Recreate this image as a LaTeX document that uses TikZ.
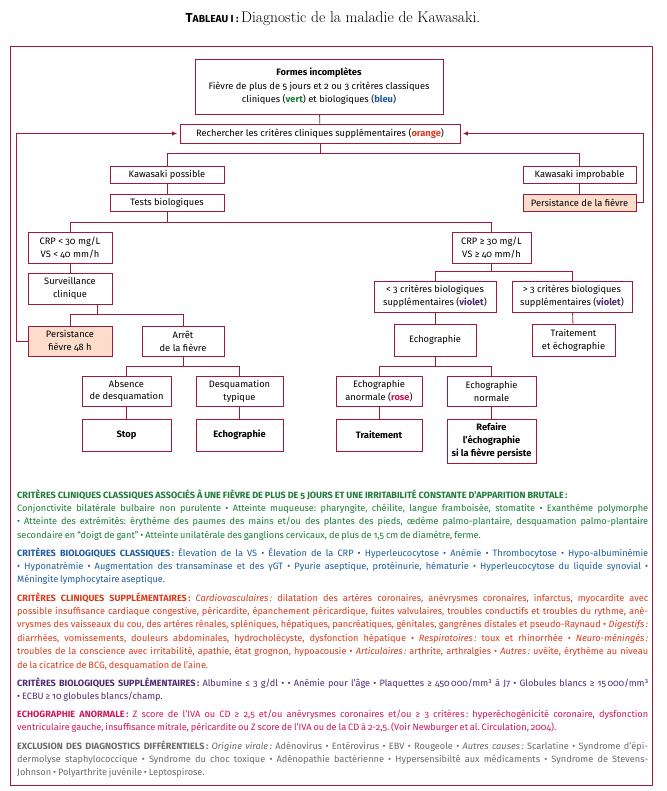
\documentclass[tikz,border=0pt]{standalone}
\usepackage{fontspec}
\setsansfont{Fira Sans}[Numbers=OldStyle]
\renewcommand{\familydefault}{\sfdefault}
\usetikzlibrary{arrows.meta, positioning}
\definecolor{cadre}{HTML}{9B1B38}
\definecolor{peche}{HTML}{FCDCCB}
\definecolor{vert}{HTML}{1E7B3A}
\definecolor{bleu}{HTML}{1F5C9E}
\definecolor{orangec}{HTML}{D93A1C}
\definecolor{cviolet}{HTML}{4E2A72}
\definecolor{rose}{HTML}{D0155C}
\definecolor{gris}{HTML}{6A6A6A}
\newcommand{\reglages}{\frenchspacing\hyphenpenalty=10000\relax\exhyphenpenalty=10000\relax\tolerance=9999\relax\spaceskip=1.9pt plus 3pt minus 0.5pt\relax}
\tikzset{
    boite/.style={
        draw=cadre,
        line width=0.8pt,
        fill=white,
        align=center,
        inner sep=1pt,
        font=\fontsize{9.3}{13}\selectfont
    },
    alerte/.style={boite, fill=peche},
    lien/.style={draw=cadre, line width=0.8pt},
    retour/.style={lien, -{Latex[length=5pt,width=4.5pt]}, shorten >=2.5pt},
    texte/.style={
        text width=631pt,
        align=justify,
        inner sep=0pt,
        anchor=base west,
        font=\fontsize{9.2}{13.4}\selectfont,
        execute at begin node=\reglages
    }
}
\newcommand{\rubrique}[1]{{\bfseries\fontsize{9.1}{13.4}\selectfont #1}}

\begin{document}
\begin{tikzpicture}[x=1pt,y=-1pt]
	\useasboundingbox (0,0) rectangle (666,791);
	\node (titre) at (333,19) {{\bfseries\fontsize{13}{15}\selectfont T\fontsize{10.2}{15}\selectfont ABLEAU I :}~{\rmfamily\fontsize{15.5}{17}\selectfont Diagnostic de la maladie de Kawasaki.}};
	\draw[lien] (10,46) rectangle (652,785);

	% arbre
	\node[boite, minimum width=248pt, minimum height=55pt] at (319,86.5) (formes) {\textbf{Formes incomplètes}\\[1pt]Fièvre de plus de 5 jours et 2 ou 3 critères classiques\\cliniques (\textcolor{vert}{\textbf{vert}}) et biologiques (\textcolor{bleu}{\textbf{bleu}})};
	\node[boite, minimum width=280pt, minimum height=19pt] at (320,133.5) (rech) {Rechercher les critères cliniques supplémentaires (\textcolor{orangec}{\textbf{orange}})};
	\node[boite, minimum width=114pt, minimum height=17pt] at (167,174.5) (kposs) {Kawasaki possible};
	\node[boite, minimum width=114pt, minimum height=17pt] at (167,202.5) (tests) {Tests biologiques};
	\node[boite, minimum width=113pt, minimum height=17pt] at (579.5,174.5) (kimpr) {Kawasaki improbable};
	\node[alerte, minimum width=113pt, minimum height=17pt] at (579.5,202.5) (persf) {Persistance de la fièvre};

	\node[boite, minimum width=84pt, minimum height=31pt] at (70,247.5) (crpa) {CRP < 30 mg/L\\VS < 40 mm/h};
	\node[boite, minimum width=84pt, minimum height=31pt] at (70,288.5) (surv) {Surveillance\\clinique};
	\node[alerte, minimum width=84pt, minimum height=30pt] at (70,341) (pers48) {Persistance\\fièvre 48 h};
	\node[boite, minimum width=82pt, minimum height=30pt] at (183,341) (arret) {Arrêt\\de la fièvre};
	\node[boite, minimum width=89pt, minimum height=30pt] at (126.5,391) (absence) {Absence\\de desquamation};
	\node[boite, minimum width=87pt, minimum height=30pt] at (239.5,391) (desq) {Desquamation\\typique};
	\node[boite, minimum width=89pt, minimum height=32pt] at (126.5,435) (stop) {\textbf{Stop}};
	\node[boite, minimum width=87pt, minimum height=32pt] at (239.5,435) (echoa) {\textbf{Echographie}};

	\node[boite, minimum width=79pt, minimum height=31pt] at (491.5,247.5) (crpb) {CRP ≥ 30 mg/L\\VS ≥ 40 mm/h};
	\node[boite, minimum width=122pt, minimum height=31pt] at (435,296.5) (moins3) {< 3 critères biologiques\\supplémentaires (\textcolor{cviolet}{\textbf{violet}})};
	\node[boite, minimum width=120pt, minimum height=31pt] at (572,296.5) (plus3) {> 3 critères biologiques\\supplémentaires (\textcolor{cviolet}{\textbf{violet}})};
	\node[boite, minimum width=82pt, minimum height=32pt] at (435,340) (echob) {Echographie};
	\node[boite, minimum width=83pt, minimum height=32pt] at (573.5,340) (traitecho) {Traitement\\et échographie};
	\node[boite, minimum width=86pt, minimum height=30pt] at (379,391) (anorm) {Echographie\\anormale (\textcolor{rose}{\textbf{rose}})};
	\node[boite, minimum width=89pt, minimum height=30pt] at (491.5,391) (normale) {Echographie\\normale};
	\node[boite, minimum width=86pt, minimum height=32pt] at (379,435) (trait) {\textbf{Traitement}};
	\node[boite, minimum width=89pt, minimum height=44pt] at (491.5,441) (refaire) {\textbf{Refaire}\\\textbf{l’échographie}\\\textbf{si la fièvre persiste}};

	% liens
	\draw[lien] (formes) -- (rech);
	\draw[lien] (rech.south) -- ++(0,10) -| (kposs.north);
	\draw[lien] (rech.south) -- ++(0,10) -| (kimpr.north);
	\draw[lien] (kposs) -- (tests);
	\draw[lien] (kimpr) -- (persf);
	\draw[lien] (tests.south) -- ++(0,11) -| (crpa.north);
	\draw[lien] (tests.south) -- ++(0,11) -| (crpb.north);
	\draw[lien] (crpa) -- (surv);
	\draw[lien] ([xshift=27pt]surv.south) -- ++(0,10) -| (pers48.north);
	\draw[lien] ([xshift=27pt]surv.south) -- ++(0,10) -| (arret.north);
	\draw[lien] (arret.south) -- ++(0,10) -| (absence.north);
	\draw[lien] (arret.south) -- ++(0,10) -| (desq.north);
	\draw[lien] (absence) -- (stop);
	\draw[lien] (desq) -- (echoa);
	\draw[lien] (crpb.south) -- ++(0,8) -| (moins3.north);
	\draw[lien] (crpb.south) -- ++(0,8) -| (plus3.north);
	\draw[lien] (moins3) -- (echob);
	\draw[lien] (plus3) -- (traitecho);
	\draw[lien] (echob.south) -- ++(0,10) -| (anorm.north);
	\draw[lien] (echob.south) -- ++(0,10) -| (normale.north);
	\draw[lien] (anorm) -- (trait);
	\draw[lien] (normale) -- (refaire);
	\draw[retour] (persf.east) -- ++(7,0) |- (rech.east);
	\draw[retour] (pers48.west) -- ++(-11,0) |- (rech.west);

	% textes
	\node[texte, text=vert] at (17,498) (cliniques) {\rubrique{CRITÈRES CLINIQUES CLASSIQUES ASSOCIÉS À UNE FIÈVRE DE PLUS DE 5 JOURS ET UNE IRRITABILITÉ CONSTANTE D’APPARITION BRUTALE\,:}\\
	Conjonctivite bilatérale bulbaire non purulente • Atteinte muqueuse: pharyngite, chéilite, langue framboisée, stomatite • Exanthème polymorphe\linebreak
	• Atteinte des extrémités: érythème des paumes des mains et/ou des plantes des pieds, œdème palmo-plantaire, desquamation palmo-plantaire\linebreak
	secondaire en “doigt de gant” • Atteinte unilatérale des ganglions cervicaux, de plus de 1,5 cm de diamètre, ferme.};
	\node[texte, text=bleu] at (17,556) (biologiques) {\rubrique{CRITÈRES BIOLOGIQUES CLASSIQUES\,:} Élevation de la VS • Élevation de la CRP • Hyperleucocytose • Anémie • Thrombocytose • Hypo-albuminémie\linebreak
	• Hyponatrémie • Augmentation des transaminase et des γGT • Pyurie aseptique, protéinurie, hématurie • Hyperleucocytose du liquide synovial •\linebreak
	Méningite lymphocytaire aseptique.};
	\node[texte, text=orangec] at (17,601) (supcliniques) {\rubrique{CRITÈRES CLINIQUES SUPPLÉMENTAIRES\,:} \textit{Cardiovasculaires\,:} dilatation des artères coronaires, anévrysmes coronaires, infarctus, myocardite avec\linebreak
	possible insuffisance cardiaque congestive, péricardite, épanchement péricardique, fuites valvulaires, troubles conductifs et troubles du rythme, ané-\linebreak
	vrysmes des vaisseaux du cou, des artères rénales, spléniques, hépatiques, pancréatiques, génitales, gangrènes distales et pseudo-Raynaud • \textit{Digestifs\,:}\linebreak
	diarrhées, vomissements, douleurs abdominales, hydrocholécyste, dysfonction hépatique • \textit{Respiratoires\,:} toux et rhinorrhée • \textit{Neuro-méningés\,:}\linebreak
	troubles de la conscience avec irritabilité, apathie, état grognon, hypoacousie • \textit{Articulaires\,:} arthrite, arthralgies • \textit{Autres\,:} uvéite, érythème au niveau\linebreak
	de la cicatrice de BCG, desquamation de l’aine.};
	\node[texte, text=cviolet] at (17,686) (supbiologiques) {\rubrique{CRITÈRES BIOLOGIQUES SUPPLÉMENTAIRES\,:} Albumine ≤ 3 g/dl • • Anémie pour l’âge • Plaquettes ≥ 450\,000/mm³ à J7 • Globules blancs ≥ 15\,000/mm³\linebreak
	• ECBU ≥ 10 globules blancs/champ.};
	\node[texte, text=rose] at (17,717.5) (anormale) {\rubrique{ECHOGRAPHIE ANORMALE\,:} Z score de l’IVA ou CD ≥ 2,5 et/ou anévrysmes coronaires et/ou ≥ 3 critères\,: hyperéchogénicité coronaire, dysfonction\linebreak
	ventriculaire gauche, insuffisance mitrale, péricardite ou Z score de l’IVA ou de la CD à 2-2,5. (Voir Newburger et al. Circulation, 2004).};
	\node[texte, text=gris] at (17,749) (exclusion) {\rubrique{EXCLUSION DES DIAGNOSTICS DIFFÉRENTIELS\,:} \textit{Origine virale\,:} Adénovirus • Entérovirus • EBV • Rougeole • \textit{Autres causes\,:} Scarlatine • Syndrome d’épi-\linebreak
	dermolyse staphylococcique • Syndrome du choc toxique • Adénopathie bactérienne • Hypersensibilté aux médicaments • Syndrome de Stevens-\linebreak
	Johnson • Polyarthrite juvénile • Leptospirose.};
\end{tikzpicture}
\end{document}
